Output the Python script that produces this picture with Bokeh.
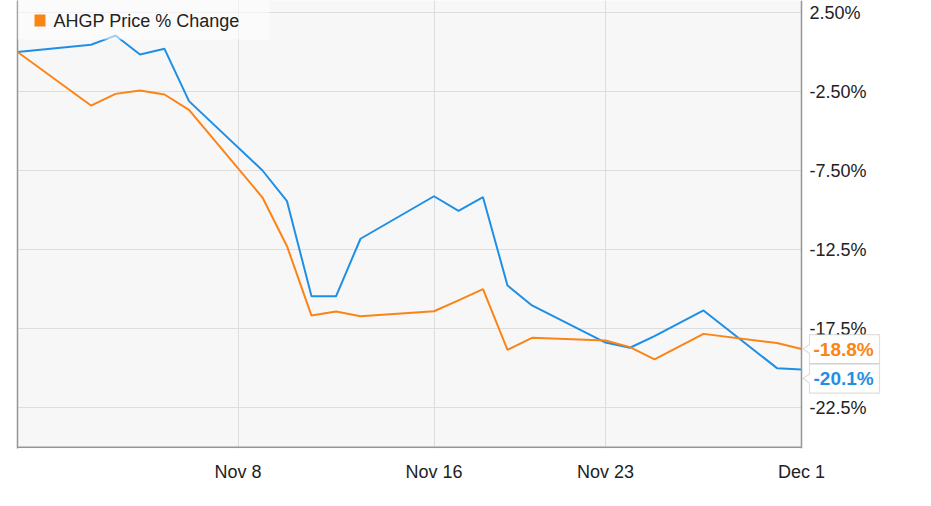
import pandas as pd
from bokeh.plotting import figure
from bokeh.models import (Range1d, FixedTicker, DatetimeTickFormatter,
                          BoxAnnotation, Label, PolyAnnotation, Span)
from bokeh.embed import file_html
from bokeh.resources import INLINE

# ---- data ----
dates = ["2015-10-30", "2015-11-02", "2015-11-03", "2015-11-04", "2015-11-05", "2015-11-06",
         "2015-11-09", "2015-11-10", "2015-11-11", "2015-11-12", "2015-11-13",
         "2015-11-16", "2015-11-17", "2015-11-18", "2015-11-19", "2015-11-20",
         "2015-11-23", "2015-11-24", "2015-11-25", "2015-11-27",
         "2015-11-30", "2015-12-01"]
arlp_pct = [0.0, 0.46, 1.04, -0.16, 0.20, -3.11,
            -7.50, -9.44, -15.46, -15.46, -11.82,
            -9.13, -10.05, -9.19, -14.78, -16.04,
            -18.39, -18.72, -17.98, -16.36,
            -20.01, -20.1]
ahgp_pct = [0.0, -3.39, -2.65, -2.44, -2.69, -3.66,
            -9.21, -12.29, -16.68, -16.42, -16.72,
            -16.41, -15.72, -15.01, -18.85, -18.09,
            -18.26, -18.68, -19.46, -17.84,
            -18.42, -18.8]
x_tick_dates = ["2015-11-08", "2015-11-16", "2015-11-23", "2015-12-01"]
y_ticks = [2.5, -2.5, -7.5, -12.5, -17.5, -22.5]
y_tick_labels = ["2.50%", "-2.50%", "-7.50%", "-12.5%", "-17.5%", "-22.5%"]
legend_text = "AHGP Price % Change"

BLUE = "#1f8fe6"
ORANGE = "#fb8416"
GRAY = "#959595"
TXT = "#222222"
FONT = "Liberation Sans"

x = pd.to_datetime(dates)
x_ms = [t.value / 1e6 for t in x]

# ---- layout constants (pixels) ----
W, H = 915, 490
FL, FT, FB = 17, 0, 42
plot_right = 801            # where the last date sits; right of it is the value-axis area
frame_h = H - FT - FB
zero_px, ppu = 51.5, 15.8   # pixel row of 0 % and pixels per percent

px_per_ms = (plot_right - FL) / (x_ms[-1] - x_ms[0])
x_end = x_ms[-1] + (W - plot_right) / px_per_ms
y_top = zero_px / ppu
y_bot = -(frame_h - zero_px) / ppu

p = figure(width=W, height=H, x_axis_type="datetime",
           x_range=Range1d(x_ms[0], x_end), y_range=Range1d(y_bot, y_top),
           output_backend="svg", toolbar_location=None,
           min_border_left=FL, min_border_right=0, min_border_top=FT, min_border_bottom=FB,
           background_fill_color="#f7f7f7", border_fill_color="white",
           outline_line_color=None)

# x axis (labels only)
xt = FixedTicker(ticks=[pd.Timestamp(d).value / 1e6 for d in x_tick_dates])
p.xaxis.ticker = xt
p.xaxis.formatter = DatetimeTickFormatter(days="%b %-d", months="%b %-d", years="%b %-d")
p.xaxis.axis_line_color = None
p.xaxis.major_tick_line_color = None
p.xaxis.minor_tick_line_color = None
p.xaxis.major_label_standoff = 7
p.xaxis.major_label_text_font = FONT
p.xaxis.major_label_text_font_size = "18px"
p.xaxis.major_label_text_color = TXT

# left axis used only as the left border line
p.yaxis.ticker = FixedTicker(ticks=[])
p.yaxis.axis_line_color = GRAY
p.yaxis.axis_line_width = 1.5
p.yaxis.major_tick_line_color = None
p.yaxis.minor_tick_line_color = None
p.yaxis.major_label_standoff = 0

p.xgrid.ticker = xt
p.ygrid.ticker = FixedTicker(ticks=y_ticks)
p.xgrid.grid_line_color = "#dddddd"
p.ygrid.grid_line_color = "#dddddd"

p.line(x_ms, arlp_pct, line_color=BLUE, line_width=2)
p.line(x_ms, ahgp_pct, line_color=ORANGE, line_width=2)

# bottom border of the plot (its right part is hidden by the value-axis area)
p.add_layout(Span(location=y_bot + 1.2 / ppu, dimension="width",
                  line_color=GRAY, line_width=1.5))
# white value-axis area right of the plot
p.add_layout(BoxAnnotation(left=plot_right, right=W + 5, top=-5, bottom=H + 5,
                           left_units="canvas", right_units="canvas",
                           top_units="canvas", bottom_units="canvas",
                           fill_color="white", fill_alpha=1, line_color=None))
# right border of the plot, at the last date
p.add_layout(Span(location=x_ms[-1], dimension="height", line_color=GRAY, line_width=1.5))

# value-axis tick labels
for t, lab in zip(y_ticks, y_tick_labels):
    p.add_layout(Label(x=plot_right + 8, y=t, x_units="canvas", y_units="data", text=lab,
                       text_baseline="middle", text_font=FONT, text_font_size="18px",
                       text_color=TXT))

# legend (partly cropped in the reference: only the second row is visible)
p.add_layout(BoxAnnotation(left=FL, right=269, top=0, bottom=39,
                           left_units="canvas", right_units="canvas",
                           top_units="canvas", bottom_units="canvas",
                           fill_color="white", fill_alpha=0.55, line_color=None))
p.add_layout(BoxAnnotation(left=34, right=45, top=14, bottom=26,
                           left_units="canvas", right_units="canvas",
                           top_units="canvas", bottom_units="canvas",
                           fill_color=ORANGE, fill_alpha=1, line_color=None))
p.add_layout(Label(x=53, y=20, x_units="canvas", y_units="canvas", text=legend_text,
                   text_baseline="middle", text_font=FONT, text_font_size="18px",
                   text_color=TXT))

# end-value tags
hh = 14.5 / ppu
nh = 4.5 / ppu
bx0, bx1, tip = plot_right + 8, plot_right + 78, plot_right + 1.5
for val, shift, col in [(ahgp_pct[-1], 0.0, ORANGE), (arlp_pct[-1], -9.0, BLUE)]:
    yc = val + shift / ppu
    p.add_layout(PolyAnnotation(xs=[bx0, bx1, bx1, bx0, bx0, tip, bx0],
                                ys=[yc + hh, yc + hh, yc - hh, yc - hh, yc - nh, yc, yc + nh],
                                xs_units="canvas", ys_units="data",
                                fill_color="white", fill_alpha=1,
                                line_color=GRAY, line_width=1.2))
    p.add_layout(Label(x=plot_right + 12, y=val, x_units="canvas", y_units="data",
                       y_offset=shift, text=f"{val:.1f}%", text_baseline="middle",
                       text_font=FONT, text_font_size="19px", text_font_style="bold",
                       text_color=col))

open("out.html", "w").write(file_html(p, INLINE))
